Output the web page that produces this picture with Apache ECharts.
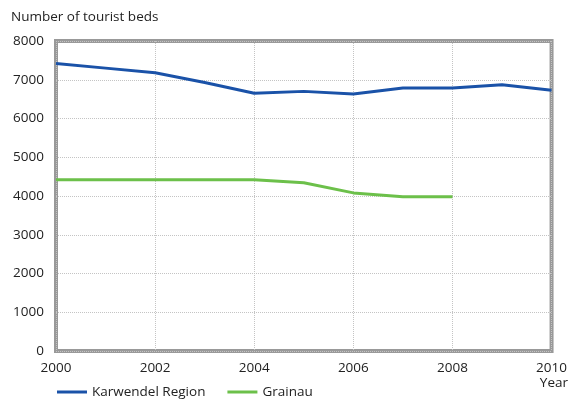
<!DOCTYPE html>
<html><head><meta charset="utf-8">
<script src="https://cdn.jsdelivr.net/npm/echarts@6/dist/echarts.min.js"></script>
<style>html,body{margin:0;padding:0;background:#fff}#c{width:570px;height:404px}</style>
</head><body><div id="c"></div>
<script>
const years = [2000,2001,2002,2003,2004,2005,2006,2007,2008,2009,2010];
const karwendel = [7420,7300,7180,6930,6650,6700,6630,6790,6790,6870,6730];
const grainau = [4420,4420,4420,4420,4420,4340,4080,3980,3980];
const seriesNames = ['Karwendel Region','Grainau'];
const FONT = '"Open Sans", sans-serif';
const chart = echarts.init(document.getElementById('c'));
chart.setOption({
  animation:false,
  textStyle:{fontFamily:FONT},
  title:{text:'Number of tourist beds',left:6,top:5,textStyle:{fontSize:13.5,fontWeight:'normal',color:'#222',fontFamily:FONT}},
  grid:{left:56,right:18,top:41,bottom:53,show:true,borderColor:'#999999',borderWidth:4,containLabel:false},
  xAxis:{type:'value',min:2000,max:2010,interval:2,
    axisLine:{show:false},axisTick:{show:false},
    axisLabel:{color:'#222',fontSize:13.5,margin:10,formatter:v=>String(v)},
    splitLine:{show:true,lineStyle:{type:'dotted',color:'#c4c4c4',width:1}}},
  yAxis:{type:'value',min:0,max:8000,interval:1000,
    axisLine:{show:false},axisTick:{show:false},
    axisLabel:{color:'#222',fontSize:13.5,margin:12,formatter:v=>String(v)},
    splitLine:{show:true,lineStyle:{type:'dotted',color:'#c4c4c4',width:1}}},
  legend:{left:52,bottom:0,itemWidth:30,itemHeight:3,itemGap:22,icon:'rect',
    textStyle:{fontSize:13.5,color:'#222',fontFamily:FONT},data:seriesNames},
  graphic:[{type:'text',right:2,top:376,style:{text:'Year',fontSize:13.5,fill:'#222',fontFamily:FONT}}],
  series:[
    {name:seriesNames[0],type:'line',symbol:'none',lineStyle:{width:3,color:'#1a52a8'},itemStyle:{color:'#1a52a8'},
     data:years.map((y,i)=>[y,karwendel[i]])},
    {name:seriesNames[1],type:'line',symbol:'none',lineStyle:{width:3,color:'#6cc04a'},itemStyle:{color:'#6cc04a'},
     data:grainau.map((v,i)=>[years[i],v])}
  ]
});
</script></body></html>
